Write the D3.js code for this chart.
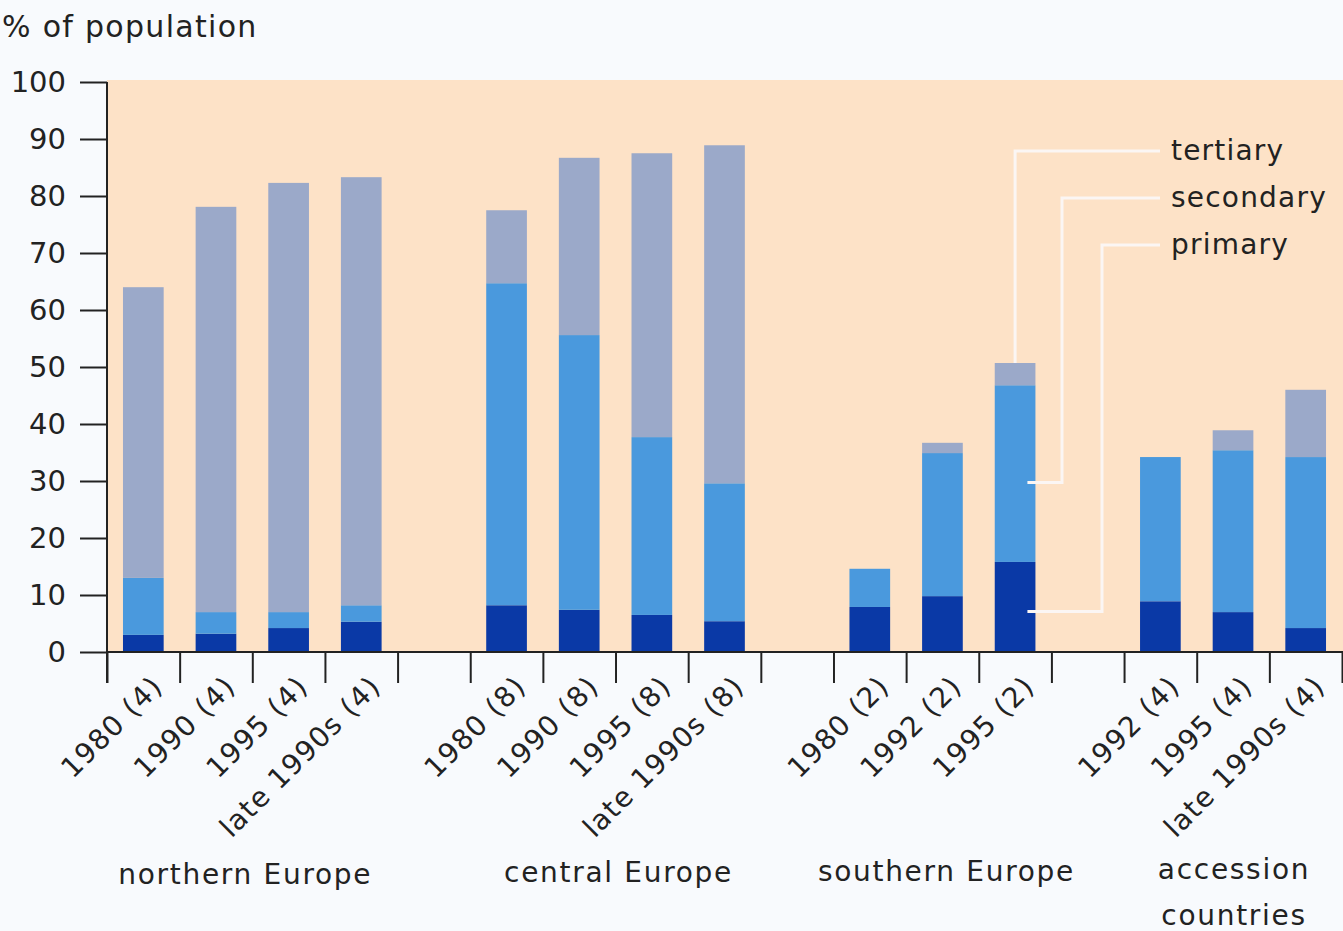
<!DOCTYPE html>
<html>
<head>
<meta charset="utf-8">
<script src="https://cdn.jsdelivr.net/npm/d3@7"></script>
<style>
  html, body { margin: 0; padding: 0; background: #f8fafd; }
  svg { display: block; }
  text { font-family: "DejaVu Sans", sans-serif; fill: #222; }
</style>
</head>
<body>
<svg id="chart" width="1343" height="931"></svg>
<script>
// Education attainment (% of population) by region and year; number of countries in brackets
const groups = ["northern Europe", "central Europe", "southern Europe", "accession countries"];
const categories = [
  "1980 (4)", "1990 (4)", "1995 (4)", "late 1990s (4)",
  "1980 (8)", "1990 (8)", "1995 (8)", "late 1990s (8)",
  "1980 (2)", "1992 (2)", "1995 (2)",
  "1992 (4)", "1995 (4)", "late 1990s (4)"
];
const groupOf = [0, 0, 0, 0, 1, 1, 1, 1, 2, 2, 2, 3, 3, 3];
const primary   = [3.0, 3.2, 4.2, 5.3,   8.2, 7.4, 6.5, 5.4,    7.9, 9.8, 15.8,   8.9, 7.0, 4.2];
const secondary = [10.0, 3.8, 2.8, 2.9,  56.5, 48.2, 31.2, 24.2, 6.7, 25.1, 31.0,  25.3, 28.4, 30.0];
const tertiary  = [51.0, 71.1, 75.3, 75.1, 12.8, 31.1, 49.8, 59.3, 0, 1.8, 3.9,   0, 3.5, 11.8];
const yTicks = [0, 10, 20, 30, 40, 50, 60, 70, 80, 90, 100];
const levels = ["primary", "secondary", "tertiary"];
const colors = { primary: "#0a39a6", secondary: "#4a99dd", tertiary: "#9ba9c9" };

// one slot per bar plus an empty slot between regions
const slots = [];
categories.forEach((c, i) => {
  if (i > 0 && groupOf[i] !== groupOf[i - 1]) slots.push("gap" + groupOf[i]);
  slots.push(c + "|" + groupOf[i]);
});

const rows = categories.map((c, i) => ({
  slot: c + "|" + groupOf[i], label: c,
  primary: primary[i], secondary: secondary[i], tertiary: tertiary[i]
}));

const svg = d3.select("#chart");
const plotLeft = 107, plotRight = 1342, plotTop = 82, plotBottom = 652;

const x = d3.scaleBand().domain(slots).range([plotLeft, plotRight]).padding(0);
const xEdge = d3.scaleLinear().domain([0, slots.length]).range([plotLeft, plotRight]);
const y = d3.scaleLinear().domain([0, 100]).range([plotBottom, plotTop]);

// plot background
svg.append("rect")
  .attr("x", plotLeft).attr("y", plotTop - 2)
  .attr("width", 1343 - plotLeft).attr("height", plotBottom - plotTop + 2)
  .attr("fill", "#fde2c7");

// stacked bars
const stacked = d3.stack().keys(levels)(rows);
const barW = x.bandwidth() * 0.56;
svg.append("g").selectAll("g").data(stacked).join("g")
  .attr("fill", d => colors[d.key])
  .selectAll("rect").data(d => d.filter(s => s[1] - s[0] > 0)).join("rect")
    .attr("x", d => x(d.data.slot) + (x.bandwidth() - barW) / 2)
    .attr("width", barW)
    .attr("y", d => y(d[1]))
    .attr("height", d => y(d[0]) - y(d[1]));

// leader lines from legend labels to the southern Europe 1995 bar
const key = "1995 (2)|2";
const bi = rows.findIndex(r => r.slot === key);
const bx = x(key) + x.bandwidth() / 2;
const bRight = x(key) + (x.bandwidth() + barW) / 2;
const legendX = 1160;
const legendY = { tertiary: 151, secondary: 198, primary: 245 };
const elbowX = { tertiary: bx, secondary: 1062, primary: 1102 };
const targetY = {
  tertiary: y(primary[bi] + secondary[bi] + tertiary[bi]),
  secondary: y(primary[bi] + secondary[bi] * 0.45),
  primary: y(primary[bi] * 0.45)
};
const leaders = svg.append("g").attr("fill", "none").attr("stroke", "#fbf6f4").attr("stroke-width", 3);
levels.forEach(k => {
  const pts = [[legendX, legendY[k]], [elbowX[k], legendY[k]], [elbowX[k], targetY[k]]];
  if (k !== "tertiary") pts.push([bRight - 8, targetY[k]]);
  leaders.append("path").attr("d", d3.line()(pts));
});
svg.append("g").selectAll("text").data(levels).join("text")
  .attr("x", 1171).attr("y", k => legendY[k] + 9)
  .attr("font-size", 28).attr("letter-spacing", 1.2)
  .text(k => k);

// axes
const yAxis = d3.axisLeft(y).tickValues(yTicks).tickSize(27).tickPadding(14).tickFormat(d3.format("d"));
const gy = svg.append("g").attr("transform", `translate(${plotLeft},0)`).call(yAxis);
gy.select(".domain").remove();
gy.selectAll("line").attr("stroke", "#222").attr("stroke-width", 2);
gy.selectAll("text").attr("font-size", 29).attr("font-family", "DejaVu Sans").attr("fill", "#222");

const xAxis = d3.axisBottom(xEdge).tickValues(d3.range(slots.length + 1)).tickSize(31).tickFormat("");
const gx = svg.append("g").attr("transform", `translate(0,${plotBottom})`).call(xAxis);
gx.select(".domain").remove();
gx.selectAll("line").attr("stroke", "#222").attr("stroke-width", 2);

svg.append("line").attr("x1", plotLeft).attr("x2", 1343).attr("y1", plotBottom).attr("y2", plotBottom)
  .attr("stroke", "#222").attr("stroke-width", 2);
svg.append("line").attr("x1", plotLeft).attr("x2", plotLeft).attr("y1", plotTop).attr("y2", plotBottom + 31)
  .attr("stroke", "#222").attr("stroke-width", 2);

// rotated category labels
svg.append("g").selectAll("text").data(rows).join("text")
  .attr("transform", d => `translate(${x(d.slot) + x.bandwidth() / 2 + 21},688) rotate(-45)`)
  .attr("text-anchor", "end")
  .attr("font-size", 28).attr("letter-spacing", 1.2)
  .text(d => d.label);

// region labels
const groupLines = [["northern Europe"], ["central Europe"], ["southern Europe"], ["accession", "countries"]];
const groupBaseline = [884, 882, 881, 879];
const groupShift = [-7, 3, 4, 1];
groups.forEach((g, gi) => {
  const members = rows.filter((r, i) => groupOf[i] === gi);
  const cx = d3.mean(members, r => x(r.slot) + x.bandwidth() / 2) + groupShift[gi];
  const t = svg.append("text").attr("text-anchor", "middle")
    .attr("font-size", 28).attr("letter-spacing", 1.7)
    .attr("x", cx).attr("y", groupBaseline[gi]);
  groupLines[gi].forEach((line, li) => {
    t.append("tspan").attr("x", cx).attr("dy", li === 0 ? 0 : 46).text(line);
  });
});

// axis title
svg.append("text").attr("x", 2).attr("y", 37)
  .attr("font-size", 30).attr("letter-spacing", 1.3)
  .text("% of population");
</script>
</body>
</html>
